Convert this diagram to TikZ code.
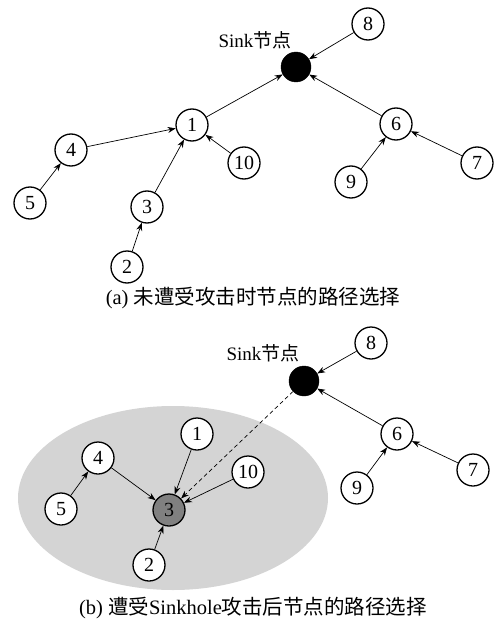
\documentclass[tikz,border=0pt]{standalone}
\usepackage{fontspec}
\setmainfont{Liberation Serif}
\newfontfamily\cjk{Noto Sans CJK SC}
\usetikzlibrary{arrows.meta,shapes.geometric}
\definecolor{zone}{RGB}{212,212,212}
\definecolor{bad}{RGB}{128,128,128}
\begin{document}
\begin{tikzpicture}[x=1pt,y=-1pt,
  nd/.style={circle,draw,line width=1.3pt,minimum size=32pt,inner sep=0pt,fill=white,font=\fontsize{20}{20}\selectfont},
  sinknd/.style={circle,fill=black,draw=black,minimum size=30pt,inner sep=0pt},
  lbl/.style={font=\fontsize{19}{19}\selectfont},
  captext/.style={font=\fontsize{20.5}{20.5}\selectfont},
  arr/.style={-{Stealth[length=8pt,width=6pt]},line width=0.7pt}]
\useasboundingbox (0,0) rectangle (493,623);
% ---------- (a)
\node[sinknd] (sa) at (296,67) {};
\node[lbl] (sla) at (255,40) {Sink{\cjk 节点}};
\node[nd] (a8) at (368,24) {8};
\node[nd] (a1) at (192,125) {1};
\node[nd] (a6) at (396,124) {6};
\node[nd] (a4) at (71,150) {4};
\node[nd] (a10) at (244,163) {10};
\node[nd] (a7) at (477,163) {7};
\node[nd] (a9) at (351,182) {9};
\node[nd] (a5) at (30,203) {5};
\node[nd] (a3) at (147,207) {3};
\node[nd] (a2) at (127,267) {2};
\node[captext] (capa) at (253,298) {(a) {\cjk 未遭受攻击时节点的路径选择}};
\draw[arr] (a8) -- (sa);
\draw[arr] (a1) -- (sa);
\draw[arr] (a6) -- (sa);
\draw[arr] (a4) -- (a1);
\draw[arr] (a3) -- (a1);
\draw[arr] (a10) -- (a1);
\draw[arr] (a5) -- (a4);
\draw[arr] (a2) -- (a3);
\draw[arr] (a9) -- (a6);
\draw[arr] (a7) -- (a6);
% ---------- (b)
\node[ellipse,fill=zone,minimum width=310pt,minimum height=184pt,inner sep=0pt] (zone) at (173,498) {};
\node[sinknd] (sb) at (304,381) {};
\node[lbl] (slb) at (263,353) {Sink{\cjk 节点}};
\node[nd] (b8) at (371,343) {8};
\node[nd] (b1) at (197,434) {1};
\node[nd] (b4) at (98,458) {4};
\node[nd] (b10) at (248,472) {10};
\node[nd] (b5) at (61,509) {5};
\node[nd,fill=bad] (b3) at (169,510) {3};
\node[nd] (b2) at (149,565) {2};
\node[nd] (b6) at (397,434) {6};
\node[nd] (b9) at (357,488) {9};
\node[nd] (b7) at (473,470) {7};
\node[captext] (capb) at (253,608) {(b) {\cjk 遭受}Sinkhole{\cjk 攻击后节点的路径选择}};
\draw[arr] (b8) -- (sb);
\draw[arr] (b6) -- (sb);
\draw[arr] (b9) -- (b6);
\draw[arr] (b7) -- (b6);
\draw[arr] (b5) -- (b4);
\draw[arr] (b4) -- (b3);
\draw[arr] (b1) -- (b3);
\draw[arr] (b10) -- (b3);
\draw[arr] (b2) -- (b3);
\draw[arr,dash pattern=on 4pt off 3pt] (sb) -- (b3);
\end{tikzpicture}
\end{document}
